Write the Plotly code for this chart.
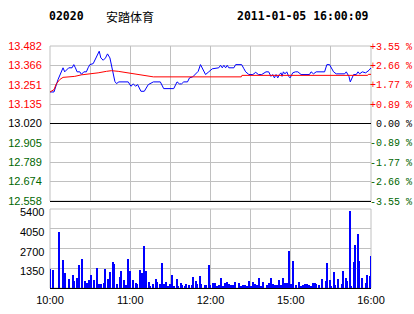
import plotly.graph_objects as go

# ---- data ----
prev_close = 13.020
price_ticks = [13.482, 13.366, 13.251, 13.135, 13.020, 12.905, 12.789, 12.674, 12.558]
pct_labels = ["+3.55 %", "+2.66 %", "+1.77 %", "+0.89 %", "\u00a00.00 %",
              "-0.89 %", "-1.77 %", "-2.66 %", "-3.55 %"]
vol_ticks = [1350, 2700, 4050, 5400]
time_ticks = [0, 30, 60, 90, 120, 150, 180, 210, 240]
time_labels = ["10:00", "", "11:00", "", "12:00", "", "15:00", "", "16:00"]

price_min = [0, 3, 6, 8.5, 9.75, 11, 12.75, 14, 16.5, 17.8, 19, 20.25, 22.3, 23.5, 25.3, 27.2,
             28.5, 29.8, 32.3, 33.5, 35.3, 36.8, 38, 39.8, 41.5, 43, 44.8, 46, 47.3, 48.5, 49.7,
             51.5, 58.5, 60.5, 62.3, 64, 65.5, 68, 70.5, 73.5, 77.3, 82.5, 85, 92.5, 95, 96.8,
             98.3, 100, 102.8, 104.3, 106.7, 108.8, 110.8, 112.5, 114.2, 116.3, 118.7, 121.3,
             126.2, 127.5, 128.8, 130, 131.3, 132.5, 133.7, 137.5, 138.8, 143.3, 145, 146.3,
             148.7, 151.7, 153.8, 155.8, 158.3, 160, 161.5, 163.5, 165.2, 166.5, 167.8, 169,
             170.3, 171.5, 172.7, 173.5, 174.5, 175.7, 177, 178.5, 179.5, 181.5, 183.5, 185.3,
             187.7, 194, 195.2, 197, 199, 205.3, 207, 209, 210.2, 212, 214, 220.3, 221.5, 223.5,
             224.5, 226, 227, 229, 230.3, 231.5, 233.5, 236, 238.5, 240]
price_val = [13.208, 13.208, 13.282, 13.331, 13.352, 13.328, 13.346, 13.352, 13.352, 13.371,
             13.352, 13.328, 13.328, 13.313, 13.328, 13.328, 13.352, 13.371, 13.377, 13.395,
             13.427, 13.451, 13.411, 13.397, 13.411, 13.435, 13.411, 13.371, 13.322, 13.271,
             13.258, 13.268, 13.268, 13.242, 13.256, 13.242, 13.252, 13.212, 13.212, 13.252,
             13.268, 13.268, 13.228, 13.228, 13.268, 13.256, 13.256, 13.268, 13.268, 13.292,
             13.298, 13.312, 13.331, 13.371, 13.341, 13.312, 13.328, 13.346, 13.352, 13.367,
             13.352, 13.367, 13.352, 13.367, 13.352, 13.352, 13.371, 13.371, 13.346, 13.328,
             13.312, 13.312, 13.325, 13.312, 13.312, 13.322, 13.328, 13.328, 13.301, 13.312,
             13.292, 13.312, 13.292, 13.312, 13.322, 13.301, 13.328, 13.316, 13.328, 13.301,
             13.292, 13.322, 13.328, 13.328, 13.312, 13.312, 13.328, 13.316, 13.328, 13.328,
             13.371, 13.371, 13.352, 13.328, 13.316, 13.316, 13.328, 13.301, 13.268, 13.295,
             13.312, 13.312, 13.328, 13.316, 13.328, 13.322, 13.337, 13.352]

avg_min = [0, 3, 4.7, 7.3, 9.75, 13.5, 18.5, 23.5, 31, 36, 42.2, 46, 51, 58.5, 66, 72.2, 77.3,
           143, 143.5, 237.5, 238, 240]
avg_val = [13.208, 13.222, 13.256, 13.282, 13.295, 13.298, 13.301, 13.310, 13.316, 13.322,
           13.331, 13.335, 13.331, 13.322, 13.316, 13.306, 13.298, 13.298, 13.307, 13.307,
           13.313, 13.313]

vol_min = [0, 2, 7, 10, 11, 14, 17, 18, 20, 22, 24, 26, 28, 29, 31, 33, 35, 37, 38, 40, 41, 43,
           45, 47, 48, 50, 52, 53, 55, 57, 58, 60, 62, 64, 65, 67, 69, 70, 72, 74, 75, 77, 79,
           80, 82, 84, 85, 87, 88, 90, 91, 93, 95, 96, 98, 99, 101, 102, 104, 106, 107, 109,
           110, 112, 113, 116, 117, 119, 120, 122, 123, 125, 126, 128, 129, 131, 132, 134, 135,
           137, 138, 141, 143, 144, 146, 147, 149, 150, 152, 153, 155, 156, 158, 159, 162, 164,
           165, 167, 168, 170, 171, 173, 174, 176, 177, 178, 179, 180, 182, 184, 186, 188, 189,
           191, 192, 194, 195, 197, 198, 199, 201, 203, 206, 207, 209, 210, 212, 213, 215, 218,
           219, 221, 222, 224, 225, 227, 228, 230, 231, 233, 236, 237, 239, 240]
vol_val = [1320, 1250, 3830, 1940, 1050, 640, 910, 500, 700, 1590, 2000, 500, 360, 570, 910, 570,
           1390, 290, 290, 360, 1320, 640, 1120, 1800, 1660, 290, 780, 1180, 570, 230, 2000,
           1180, 570, 360, 290, 1250, 1050, 2900, 1180, 430, 160, 290, 640, 430, 290, 1730, 290,
           430, 160, 290, 910, 160, 640, 160, 360, 230, 160, 290, 230, 230, 780, 500, 290, 840,
           290, 230, 230, 1590, 230, 360, 360, 160, 230, 700, 160, 360, 430, 290, 230, 230, 430,
           360, 160, 230, 230, 160, 500, 160, 430, 290, 230, 700, 160, 430, 230, 360, 700, 290,
           230, 230, 570, 230, 700, 360, 360, 360, 2550, 290, 1870, 230, 430, 160, 230, 290, 290,
           230, 160, 360, 360, 290, 230, 640, 500, 1730, 570, 160, 1120, 230, 640, 290, 1180, 700,
           500, 5290, 160, 1800, 2960, 3710, 1870, 700, 360, 910, 840, 2200]

# ---- styling ----
RED = "#ff0000"
GREEN = "#006600"
GRID = "#c0c0c0"
LEFT_FONT = dict(family="Liberation Sans, Arial, sans-serif", size=11, color="black")


def tick_color(v):
    if v > prev_close + 1e-9:
        return RED
    if v < prev_close - 1e-9:
        return GREEN
    return "black"


left_text = [f'<span style="color:{tick_color(v)}">{v:.3f}</span>' for v in price_ticks]
right_text = [f'<span style="color:{tick_color(v)}">{t}</span>' for v, t in zip(price_ticks, pct_labels)]

fig = go.Figure()
fig.add_trace(go.Scatter(x=price_min, y=price_val, mode="lines",
                         line=dict(color="#0000ff", width=1), xaxis="x", yaxis="y",
                         hoverinfo="skip"))
fig.add_trace(go.Scatter(x=avg_min, y=avg_val, mode="lines",
                         line=dict(color=RED, width=1), xaxis="x", yaxis="y",
                         hoverinfo="skip"))
# carrier for the right-hand percentage axis (single point, draws nothing)
fig.add_trace(go.Scatter(x=[0], y=[prev_close], mode="lines", line=dict(width=0),
                         xaxis="x", yaxis="y3", hoverinfo="skip"))
fig.add_trace(go.Bar(x=vol_min, y=vol_val, width=0.75, marker=dict(color="#0000ff", line_width=0),
                     xaxis="x2", yaxis="y2", hoverinfo="skip"))

price_dom = [0.3595, 1.0]
vol_dom = [0.0, 0.3264]

fig.update_layout(
    width=414, height=314,
    margin=dict(l=50, r=43, t=46, b=26, autoexpand=False),
    paper_bgcolor="white", plot_bgcolor="white",
    showlegend=False, bargap=0,
    xaxis=dict(domain=[0, 1], range=[0, 240], anchor="y", tickvals=time_ticks,
               showticklabels=False, showgrid=True, gridcolor=GRID, gridwidth=1,
               zeroline=False, showline=True, linecolor="black", linewidth=1, ticks="",
               automargin=False),
    xaxis2=dict(domain=[0, 1], range=[0, 240], anchor="y2", matches="x", tickvals=time_ticks,
                ticktext=time_labels, tickfont=LEFT_FONT, showgrid=True, gridcolor=GRID,
                gridwidth=1, zeroline=False, showline=True, linecolor="black", linewidth=1,
                ticks="", ticklabelstandoff=2, automargin=False),
    yaxis=dict(domain=price_dom, range=[12.558, 13.482], anchor="x", tickvals=price_ticks,
               ticktext=left_text, tickfont=LEFT_FONT, showgrid=True, gridcolor=GRID,
               gridwidth=1, zeroline=False, showline=False, ticks="outside", ticklen=5,
               tickcolor="white", automargin=False),
    yaxis3=dict(overlaying="y", side="right", range=[12.558, 13.482], anchor="x",
                tickvals=price_ticks, ticktext=right_text,
                tickfont=dict(family="Liberation Mono, Courier New, monospace", size=10),
                showgrid=False, zeroline=False, showline=False, ticks="",
                ticklabelstandoff=-2, automargin=False),
    yaxis2=dict(domain=vol_dom, range=[0, 5400], anchor="x2", tickvals=vol_ticks,
                showticklabels=False, showgrid=True, automargin=False,
                gridcolor=GRID, gridwidth=1, zeroline=False, showline=False, ticks=""),
)

# volume labels, drawn slightly below their grid lines as in the reference
for v in vol_ticks:
    fig.add_annotation(xref="paper", yref="y2", x=0, y=v, xanchor="right", yanchor="middle",
                       xshift=-4, yshift=-3, text=str(v), showarrow=False, font=LEFT_FONT)

# panel borders
for yref in ["y domain", "y2 domain"]:
    fig.add_shape(type="rect", xref="paper", yref=yref, x0=0, x1=1, y0=0, y1=1,
                  line=dict(color=GRID, width=1), layer="below")
# previous-close line
fig.add_shape(type="line", xref="paper", yref="y", x0=0, x1=1, y0=prev_close, y1=prev_close,
              line=dict(color="black", width=1))

# header
HEAD = dict(family="DejaVu Sans Mono, monospace", size=11.5, color="black")
fig.add_annotation(xref="paper", yref="paper", x=0.0, y=1.122, xanchor="left", yanchor="middle",
                   xshift=-3, text="<b>02020</b>", showarrow=False, font=HEAD)
fig.add_annotation(xref="paper", yref="paper", x=0.1745, y=1.122, xanchor="left", yanchor="middle",
                   xshift=-2, text="安踏体育", showarrow=False,
                   font=dict(family="Noto Sans CJK SC", size=12, color="black"))
fig.add_annotation(xref="paper", yref="paper", x=0.9938, y=1.122, xanchor="right", yanchor="middle",
                   xshift=2, text="<b>2011-01-05 16:00:09</b>", showarrow=False, font=HEAD)

fig.write_html("out.html")
